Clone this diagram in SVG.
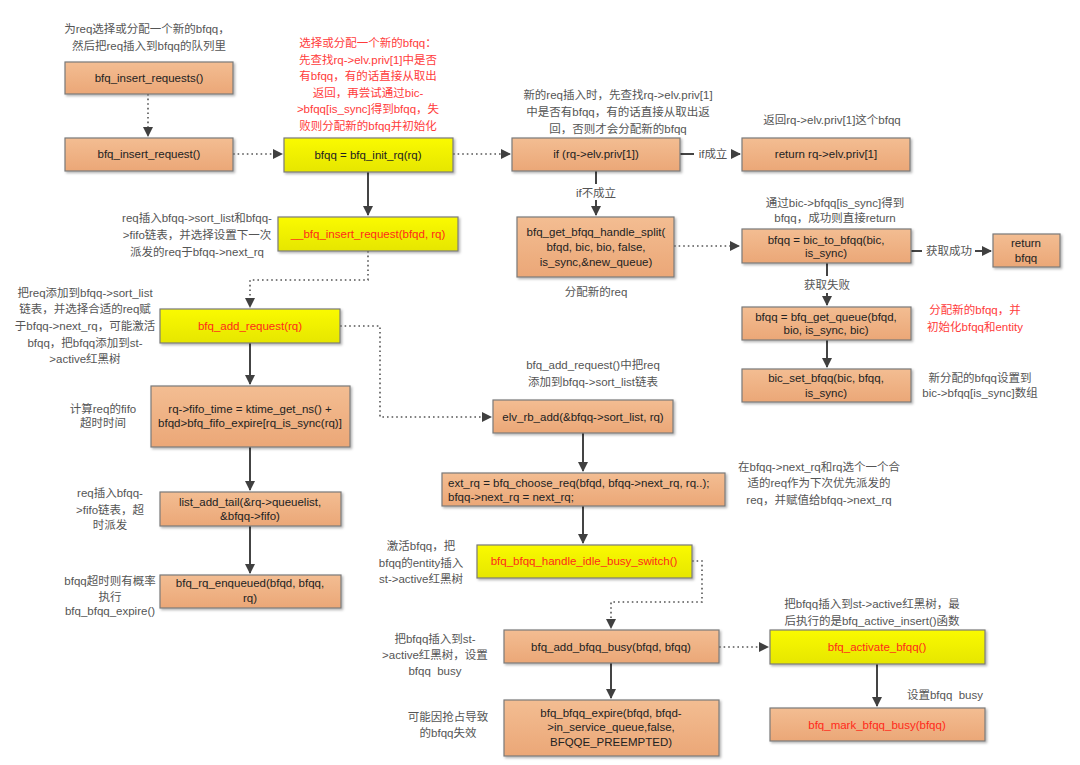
<svg xmlns="http://www.w3.org/2000/svg" width="1080" height="765" viewBox="0 0 1080 765">
<style>
text{font-family:"Liberation Sans","Noto Sans CJK SC",sans-serif;font-size:11.5px}
.bt{fill:#222;text-anchor:middle}
.rt{fill:#ff2a1a;text-anchor:middle}
.nt{fill:#555;text-anchor:middle}
.nr{fill:#ff3b3b;text-anchor:middle}
.pre{white-space:pre}
.o{fill:url(#go);stroke:#7a7a7a;stroke-width:1.2;filter:url(#sh)}
.y{fill:url(#gy);stroke:#7a7a7a;stroke-width:1.2;filter:url(#sh)}
.s{fill:none;stroke:#444;stroke-width:2}
.d{fill:none;stroke:#555;stroke-width:1.6;stroke-dasharray:1.6 3}
</style>
<defs>
<linearGradient id="go" x1="0" y1="0" x2="0" y2="1"><stop offset="0" stop-color="#f3bd92"/><stop offset="1" stop-color="#eba777"/></linearGradient>
<linearGradient id="gy" x1="0" y1="0" x2="0" y2="1"><stop offset="0" stop-color="#fafa00"/><stop offset="1" stop-color="#e6e600"/></linearGradient>
<filter id="sh" x="-10%" y="-20%" width="130%" height="160%"><feDropShadow dx="1.5" dy="1.5" stdDeviation="1" flood-color="#000" flood-opacity="0.3"/></filter>
<marker id="a" markerWidth="10" markerHeight="10" refX="9" refY="5" orient="auto" markerUnits="userSpaceOnUse"><path d="M0,0 L10,5 L0,10 Z" fill="#404040"/></marker>
</defs>
<rect width="1080" height="765" fill="#fff"/>

<g id="connectors">
<path class="d" d="M148,94 V136" marker-end="url(#a)"/>
<path class="d" d="M233,154 H282" marker-end="url(#a)"/>
<path class="d" d="M453,154 H510" marker-end="url(#a)"/>
<path class="s" d="M680,154 H694"/>
<path class="s" d="M731,154 H740" marker-end="url(#a)"/>
<path class="s" d="M596,171 V184"/>
<path class="s" d="M596,200 V215" marker-end="url(#a)"/>
<path class="d" d="M674,246 H739" marker-end="url(#a)"/>
<path class="s" d="M911,251 H922"/>
<path class="s" d="M975,251 H991" marker-end="url(#a)"/>
<path class="s" d="M827,263 V276"/>
<path class="s" d="M827,293 V305" marker-end="url(#a)"/>
<path class="s" d="M827,340 V367" marker-end="url(#a)"/>
<path class="s" d="M368,172 V215" marker-end="url(#a)"/>
<path class="d" d="M368,251 V280 H250 V307" marker-end="url(#a)"/>
<path class="d" d="M340,326 H380 V417 H491" marker-end="url(#a)"/>
<path class="s" d="M250,343 V384" marker-end="url(#a)"/>
<path class="s" d="M250,447 V490" marker-end="url(#a)"/>
<path class="s" d="M250,526 V573" marker-end="url(#a)"/>
<path class="s" d="M583,433 V471" marker-end="url(#a)"/>
<path class="s" d="M583,506 V543" marker-end="url(#a)"/>
<path class="d" d="M692,561 H702 V602 H611 V628" marker-end="url(#a)"/>
<path class="s" d="M611,663 V698" marker-end="url(#a)"/>
<path class="d" d="M719,647 H768" marker-end="url(#a)"/>
<path class="s" d="M877,664 V706" marker-end="url(#a)"/>
<text class="nt" x="713" y="158">if成立</text>
<text class="nt" x="596" y="197">if不成立</text>
<text class="nt" x="949" y="255">获取成功</text>
<text class="nt" x="827" y="289">获取失败</text>
</g>

<g id="n1"><rect class="o" x="65" y="62" width="168" height="32"/><text class="bt" x="149" y="82">bfq_insert_requests()</text>
<text class="nt" x="147" y="33">为req选择或分配一个新的bfqq，</text><text class="nt" x="149" y="50">然后把req插入到bfqq的队列里</text></g>

<g id="n2"><rect class="o" x="65" y="138" width="168" height="33"/><text class="bt" x="149" y="158">bfq_insert_request()</text></g>

<g id="n3"><rect class="y" x="284" y="138" width="169" height="34"/><text class="bt" x="368" y="159">bfqq = bfq_init_rq(rq)</text>
<text class="nr" x="368" y="47">选择或分配一个新的bfqq：</text>
<text class="nr" x="368" y="64">先查找rq-&gt;elv.priv[1]中是否</text>
<text class="nr" x="368" y="80">有bfqq，有的话直接从取出</text>
<text class="nr" x="368" y="97">返回，再尝试通过bic-</text>
<text class="nr" x="368" y="113">&gt;bfqq[is_sync]得到bfqq，失</text>
<text class="nr" x="368" y="130">败则分配新的bfqq并初始化</text></g>

<g id="n4"><rect class="o" x="512" y="138" width="168" height="33"/><text class="bt" x="596" y="158">if (rq-&gt;elv.priv[1])</text>
<text class="nt" x="618" y="99">新的req插入时，先查找rq-&gt;elv.priv[1]</text>
<text class="nt" x="618" y="116">中是否有bfqq，有的话直接从取出返</text>
<text class="nt" x="618" y="133">回，否则才会分配新的bfqq</text></g>

<g id="n5"><rect class="o" x="742" y="138" width="168" height="33"/><text class="bt" x="826" y="158">return rq-&gt;elv.priv[1]</text>
<text class="nt" x="832" y="124">返回rq-&gt;elv.priv[1]这个bfqq</text></g>

<g id="n6"><rect class="o" x="517" y="217" width="157" height="60"/>
<text class="bt" x="596" y="236">bfq_get_bfqq_handle_split(</text>
<text class="bt" x="596" y="251">bfqd, bic, bio, false,</text>
<text class="bt" x="596" y="266">is_sync,&amp;new_queue)</text>
<text class="nt" x="596" y="296">分配新的req</text></g>

<g id="n7"><rect class="o" x="742" y="229" width="169" height="34"/>
<text class="bt" x="826" y="244">bfqq = bic_to_bfqq(bic,</text>
<text class="bt" x="826" y="257">is_sync)</text>
<text class="nt" x="835" y="207">通过bic-&gt;bfqq[is_sync]得到</text>
<text class="nt" x="835" y="222">bfqq，成功则直接return</text></g>

<g id="n8"><rect class="o" x="993" y="234" width="67" height="33"/>
<text class="bt" x="1026" y="247">return</text><text class="bt" x="1026" y="262">bfqq</text></g>

<g id="n9"><rect class="o" x="742" y="307" width="169" height="33"/>
<text class="bt" x="826" y="321">bfqq = bfq_get_queue(bfqd,</text>
<text class="bt" x="826" y="334">bio, is_sync, bic)</text>
<text class="nr" x="975" y="314">分配新的bfqq，并</text>
<text class="nr" x="975" y="331">初始化bfqq和entity</text></g>

<g id="n10"><rect class="o" x="742" y="369" width="169" height="33"/>
<text class="bt" x="826" y="382">bic_set_bfqq(bic, bfqq,</text>
<text class="bt" x="826" y="397">is_sync)</text>
<text class="nt" x="980" y="382">新分配的bfqq设置到</text>
<text class="nt" x="980" y="397">bic-&gt;bfqq[is_sync]数组</text></g>

<g id="n11"><rect class="y" x="278" y="217" width="180" height="34"/>
<text class="rt" x="368" y="238">__bfq_insert_request(bfqd, rq)</text>
<text class="nt" x="197" y="222">req插入bfqq-&gt;sort_list和bfqq-</text>
<text class="nt" x="197" y="239">&gt;fifo链表，并选择设置下一次</text>
<text class="nt" x="197" y="256">派发的req于bfqq-&gt;next_rq</text></g>

<g id="n12"><rect class="y" x="160" y="309" width="180" height="34"/>
<text class="rt" x="250" y="330">bfq_add_request(rq)</text>
<text class="nt" x="85" y="297">把req添加到bfqq-&gt;sort_list</text>
<text class="nt" x="85" y="313">链表，并选择合适的req赋</text>
<text class="nt" x="85" y="330">于bfqq-&gt;next_rq，可能激活</text>
<text class="nt" x="85" y="347">bfqq，把bfqq添加到st-</text>
<text class="nt" x="85" y="363">&gt;active红黑树</text></g>

<g id="n13"><rect class="o" x="151" y="386" width="199" height="61"/>
<text class="bt" x="250" y="413">rq-&gt;fifo_time = ktime_get_ns() +</text>
<text class="bt" x="250" y="427">bfqd&gt;bfq_fifo_expire[rq_is_sync(rq)]</text>
<text class="nt" x="103" y="413">计算req的fifo</text>
<text class="nt" x="103" y="427">超时时间</text></g>

<g id="n14"><rect class="o" x="160" y="492" width="181" height="34"/>
<text class="bt" x="250" y="506">list_add_tail(&amp;rq-&gt;queuelist,</text>
<text class="bt" x="250" y="520">&amp;bfqq-&gt;fifo)</text>
<text class="nt" x="110" y="497">req插入bfqq-</text>
<text class="nt" x="110" y="514">&gt;fifo链表，超</text>
<text class="nt" x="110" y="529">时派发</text></g>

<g id="n15"><rect class="o" x="160" y="575" width="181" height="33"/>
<text class="bt" x="250" y="587">bfq_rq_enqueued(bfqd, bfqq,</text>
<text class="bt" x="250" y="602">rq)</text>
<text class="nt" x="110" y="585">bfqq超时则有概率</text>
<text class="nt" x="110" y="601">执行</text>
<text class="nt" x="110" y="615">bfq_bfqq_expire()</text></g>

<g id="n16"><rect class="o" x="493" y="400" width="180" height="33"/>
<text class="bt" x="583" y="421">elv_rb_add(&amp;bfqq-&gt;sort_list, rq)</text>
<text class="nt" x="593" y="369">bfq_add_request()中把req</text>
<text class="nt" x="593" y="386">添加到bfqq-&gt;sort_list链表</text></g>

<g id="n17"><rect class="o" x="442" y="473" width="283" height="33"/>
<text class="bt" x="448" y="487" style="text-anchor:start">ext_rq = bfq_choose_req(bfqd, bfqq-&gt;next_rq, rq..);</text>
<text class="bt" x="448" y="501" style="text-anchor:start">bfqq-&gt;next_rq = next_rq;</text>
<text class="nt" x="819" y="471">在bfqq-&gt;next_rq和rq选个一个合</text>
<text class="nt" x="819" y="487">适的req作为下次优先派发的</text>
<text class="nt" x="819" y="504">req，并赋值给bfqq-&gt;next_rq</text></g>

<g id="n18"><rect class="y" x="477" y="545" width="215" height="33"/>
<text class="rt" x="584" y="565">bfq_bfqq_handle_idle_busy_switch()</text>
<text class="nt" x="421" y="550">激活bfqq，把</text>
<text class="nt" x="421" y="567">bfqq的entity插入</text>
<text class="nt" x="421" y="583">st-&gt;active红黑树</text></g>

<g id="n19"><rect class="o" x="504" y="630" width="215" height="33"/>
<text class="bt" x="611" y="651">bfq_add_bfqq_busy(bfqd, bfqq)</text>
<text class="nt" x="435" y="643">把bfqq插入到st-</text>
<text class="nt" x="435" y="659">&gt;active红黑树，设置</text>
<text class="nt pre" x="435" y="675" xml:space="preserve">bfqq  busy</text></g>

<g id="n20"><rect class="o" x="504" y="700" width="215" height="56"/>
<text class="bt" x="611" y="717">bfq_bfqq_expire(bfqd, bfqd-</text>
<text class="bt" x="611" y="731">&gt;in_service_queue,false,</text>
<text class="bt" x="611" y="746">BFQQE_PREEMPTED)</text>
<text class="nt" x="448" y="721">可能因抢占导致</text>
<text class="nt" x="448" y="737">的bfqq失效</text></g>

<g id="n21"><rect class="y" x="770" y="630" width="215" height="34"/>
<text class="rt" x="877" y="651">bfq_activate_bfqq()</text>
<text class="nt" x="872" y="608">把bfqq插入到st-&gt;active红黑树，最</text>
<text class="nt" x="872" y="625">后执行的是bfq_active_insert()函数</text></g>

<g id="n22"><rect class="o" x="770" y="708" width="215" height="33"/>
<text class="rt" x="877" y="729">bfq_mark_bfqq_busy(bfqq)</text>
<text class="nt pre" x="945" y="699" xml:space="preserve">设置bfqq  busy</text></g>
</svg>
